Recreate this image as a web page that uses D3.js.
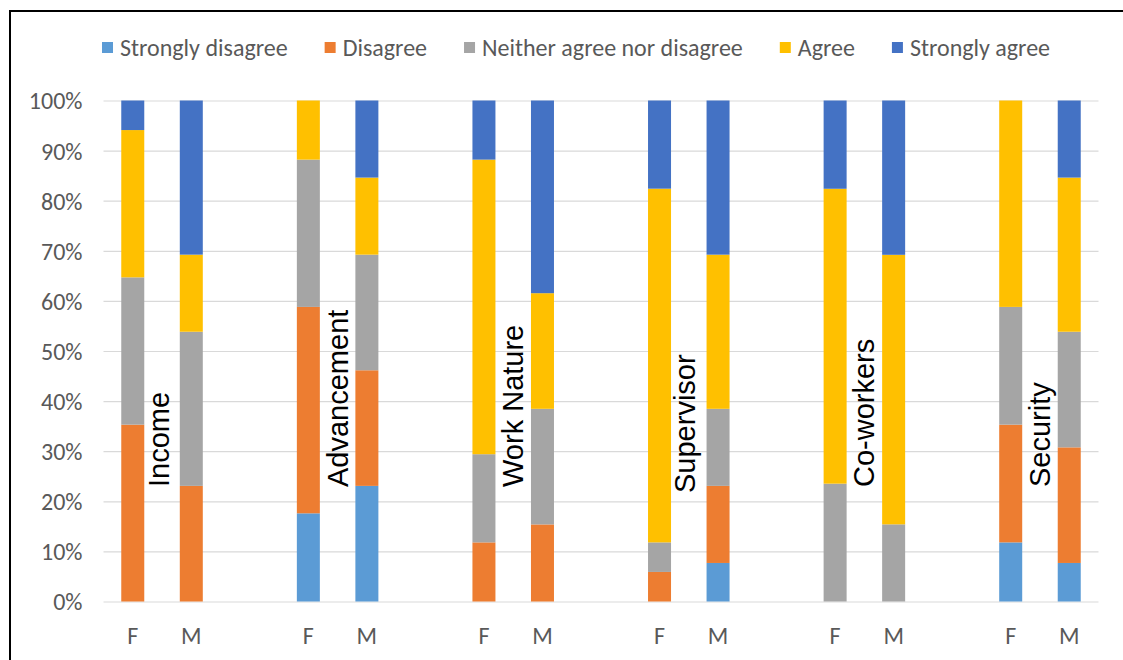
<!DOCTYPE html>
<html>
<head>
<meta charset="utf-8">
<script src="https://cdn.jsdelivr.net/npm/d3@7"></script>
<style>
  html, body { margin: 0; padding: 0; background: #fff; }
  svg { display: block; }
</style>
</head>
<body>
<svg id="chart" width="1123" height="660"></svg>
<script>
// Job-satisfaction responses by aspect and gender (percent of respondents)
const aspects = ["Income", "Advancement", "Work Nature", "Supervisor", "Co-workers", "Security"];
const genders = ["F", "M"];
const levels = ["Strongly disagree", "Disagree", "Neither agree nor disagree", "Agree", "Strongly agree"];
const levelColors = ["#5B9BD5", "#ED7D31", "#A5A5A5", "#FFC000", "#4472C4"];
const yTicks = [0, 10, 20, 30, 40, 50, 60, 70, 80, 90, 100];

// One value per bar, ordered aspect by aspect: F then M
const stronglyDisagree = [0, 0, 17.6, 23.1, 0, 0, 0, 7.7, 0, 0, 11.8, 7.7];
const disagree         = [35.3, 23.1, 41.2, 23.1, 11.8, 15.4, 5.9, 15.4, 0, 0, 23.5, 23.1];
const neither          = [29.4, 30.8, 29.4, 23.1, 17.6, 23.1, 5.9, 15.4, 23.5, 15.4, 23.5, 23.1];
const agree            = [29.4, 15.4, 11.8, 15.4, 58.8, 23.1, 70.6, 30.8, 58.8, 53.8, 41.2, 30.8];
const stronglyAgree    = [5.9, 30.8, 0, 15.4, 11.8, 38.5, 17.6, 30.8, 17.6, 30.8, 0, 15.4];

const seriesValues = [stronglyDisagree, disagree, neither, agree, stronglyAgree];

// Build rows for d3.stack
const rows = [];
aspects.forEach((a, ai) => {
  genders.forEach((g, gi) => {
    const idx = ai * 2 + gi;
    const row = { key: a + "|" + g, aspect: a, gender: g };
    levels.forEach((lv, li) => { row[lv] = seriesValues[li][idx]; });
    rows.push(row);
  });
});

// Category slots: F, M, spacer between aspect groups
const slots = [];
aspects.forEach((a, ai) => {
  genders.forEach(g => slots.push(a + "|" + g));
  if (ai < aspects.length - 1) slots.push(a + "|gap");
});

const svg = d3.select("#chart");
const W = 1123, H = 660;
const plot = { left: 103.5, right: 1098.5, top: 100.5, bottom: 601.5 };

const uiFont = "Carlito, Lato, 'Open Sans', sans-serif";

// Chart frame
svg.append("rect")
  .attr("x", 10).attr("y", 11)
  .attr("width", W + 20).attr("height", H + 20)
  .attr("fill", "#fff")
  .attr("stroke", "#000")
  .attr("stroke-width", 2);

const pad = 0.607;
const x = d3.scaleBand()
  .domain(slots)
  .range([plot.left, plot.right])
  .paddingInner(pad)
  .paddingOuter(pad / 2);

const y = d3.scaleLinear().domain([0, 1]).range([plot.bottom, plot.top]);

// Gridlines and y tick labels
const yAxis = d3.axisLeft(y)
  .tickValues(yTicks.map(t => t / 100))
  .tickSize(-(plot.right - plot.left))
  .tickPadding(21)
  .tickFormat(d => Math.round(d * 100) + "%");

const gy = svg.append("g")
  .attr("transform", `translate(${plot.left},0)`)
  .call(yAxis);
gy.select(".domain").remove();
gy.selectAll(".tick line").attr("stroke", "#D9D9D9").attr("stroke-width", 1.2);
gy.selectAll(".tick text")
  .attr("fill", "#595959")
  .style("font-family", uiFont)
  .style("font-size", "24px")
  .attr("dy", "0.35em");

// Stacked 100% columns
const stack = d3.stack().keys(levels).offset(d3.stackOffsetExpand);
const stacked = stack(rows);

svg.append("g")
  .selectAll("g")
  .data(stacked)
  .join("g")
  .attr("fill", (d, i) => levelColors[i])
  .selectAll("rect")
  .data(d => d)
  .join("rect")
  .attr("x", d => x(d.data.key))
  .attr("width", x.bandwidth())
  .attr("y", d => y(d[1]))
  .attr("height", d => Math.max(0, y(d[0]) - y(d[1])));

// X axis labels (F / M)
const xAxis = d3.axisBottom(x)
  .tickSize(0)
  .tickPadding(25)
  .tickFormat(k => k.endsWith("|gap") ? "" : k.split("|")[1]);

const gx = svg.append("g")
  .attr("transform", `translate(0,${plot.bottom})`)
  .call(xAxis);
gx.select(".domain").remove();
gx.selectAll(".tick text")
  .attr("fill", "#595959")
  .style("font-family", uiFont)
  .style("font-size", "24px");

// Aspect names, rotated, between each F/M pair
const labelShift = { "Income": [-3, 0], "Supervisor": [-4, 6] };
svg.append("g")
  .selectAll("text")
  .data(aspects)
  .join("text")
  .attr("transform", a => {
    const cx = (x(a + "|F") + x(a + "|M") + x.bandwidth()) / 2;
    const s = labelShift[a] || [0, 0];
    return `translate(${cx + 10 + s[0]},${487 + s[1]}) rotate(-90)`;
  })
  .attr("text-anchor", "start")
  .attr("fill", "#000")
  .style("font-family", "'Liberation Sans', Arial, sans-serif")
  .style("font-size", "29px")
  .text(a => a);

// Legend
const legend = svg.append("g").attr("transform", "translate(102,48)");
let cursor = 0;
levels.forEach((lv, i) => {
  const item = legend.append("g").attr("transform", `translate(${cursor},0)`);
  item.append("rect")
    .attr("x", 0).attr("y", -6)
    .attr("width", 11).attr("height", 11)
    .attr("fill", levelColors[i]);
  const t = item.append("text")
    .attr("x", 18).attr("y", 0)
    .attr("dy", "0.35em")
    .attr("fill", "#595959")
    .style("font-family", uiFont)
    .style("font-size", "24px")
    .text(lv);
  cursor += 18 + t.node().getComputedTextLength() + 37;
});
</script>
</body>
</html>
